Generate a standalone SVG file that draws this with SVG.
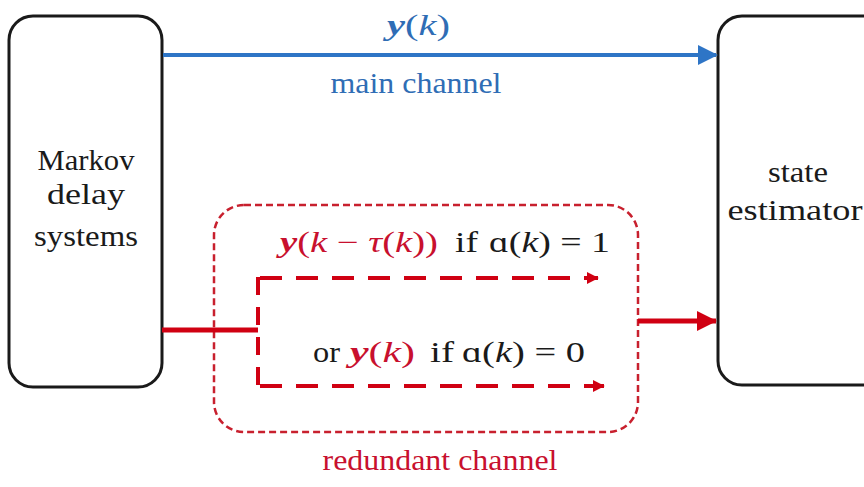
<svg xmlns="http://www.w3.org/2000/svg" width="864" height="487" viewBox="0 0 864 487">
<style>
.box{fill:#fff;stroke:#1a1a1a;stroke-width:3}
text{font-family:Liberation Serif,Tinos,Times New Roman,serif;font-size:29px;fill:#1a1a1a}
.blue{fill:#2f6db5}
.red{fill:#c8102e}
.bi{font-weight:bold;font-style:italic}
.it{font-style:italic}
</style>
<defs>
<marker id="ab" markerWidth="5" markerHeight="5" refX="4.5" refY="2.5" orient="auto" markerUnits="strokeWidth"><path d="M0,0 L5,2.5 L0,5 Z" fill="#2e75c6"/></marker>
<marker id="ar" markerWidth="4" markerHeight="4" refX="3.8" refY="2" orient="auto" markerUnits="strokeWidth"><path d="M0,0 L4,2 L0,4 Z" fill="#d00012"/></marker>
<marker id="ad" markerWidth="3" markerHeight="3" refX="2.8" refY="1.5" orient="auto" markerUnits="strokeWidth"><path d="M0,0 L3,1.5 L0,3 Z" fill="#d00012"/></marker>
</defs>
<rect width="864" height="487" fill="#fff"/>
<g id="markov">
<rect class="box" x="9" y="16" width="153" height="371" rx="24"/>
<text text-anchor="middle" x="86" y="170" textLength="97" lengthAdjust="spacingAndGlyphs">Markov</text>
<text text-anchor="middle" x="86" y="204" textLength="78" lengthAdjust="spacingAndGlyphs">delay</text>
<text text-anchor="middle" x="86" y="246" textLength="104" lengthAdjust="spacingAndGlyphs">systems</text>
</g>
<g id="estimator">
<rect class="box" x="718" y="16" width="170" height="369" rx="24"/>
<text text-anchor="middle" x="798" y="182" textLength="60" lengthAdjust="spacingAndGlyphs">state</text>
<text text-anchor="middle" x="795" y="220" textLength="135" lengthAdjust="spacingAndGlyphs">estimator</text>
</g>
<g id="redundant">
<rect x="214" y="205" width="424" height="227" rx="30" fill="none" stroke="#c8202e" stroke-width="2.5" stroke-dasharray="7,4"/>
<text class="red" x="280" y="252" textLength="158" lengthAdjust="spacingAndGlyphs"><tspan class="bi">y</tspan>(<tspan class="it">k</tspan> − <tspan class="it">τ</tspan>(<tspan class="it">k</tspan>))</text>
<text x="455" y="252" textLength="23" lengthAdjust="spacingAndGlyphs">if</text>
<text x="489" y="252" textLength="121" lengthAdjust="spacingAndGlyphs">ɑ(<tspan class="it">k</tspan>) = 1</text>
<text x="313" y="362" textLength="27" lengthAdjust="spacingAndGlyphs">or</text>
<text class="red" x="350" y="362" textLength="65" lengthAdjust="spacingAndGlyphs"><tspan class="bi">y</tspan>(<tspan class="it">k</tspan>)</text>
<text x="430" y="362" textLength="24" lengthAdjust="spacingAndGlyphs">if</text>
<text x="462" y="362" textLength="123" lengthAdjust="spacingAndGlyphs">ɑ(<tspan class="it">k</tspan>) = 0</text>
<text class="red" text-anchor="middle" x="440" y="470" textLength="235" lengthAdjust="spacingAndGlyphs">redundant channel</text>
</g>
<g id="main-label">
<text class="blue" x="387" y="35" textLength="63" lengthAdjust="spacingAndGlyphs"><tspan class="bi">y</tspan>(<tspan class="it">k</tspan>)</text>
<text class="blue" text-anchor="middle" x="416" y="93" textLength="171" lengthAdjust="spacingAndGlyphs">main channel</text>
</g>
<g id="connectors" fill="none">
<line x1="163" y1="55" x2="716" y2="55" stroke="#2e75c6" stroke-width="4" marker-end="url(#ab)"/>
<line x1="162" y1="330" x2="258" y2="330" stroke="#d00012" stroke-width="5"/>
<line x1="258" y1="277" x2="258" y2="389" stroke="#d00012" stroke-width="4" stroke-dasharray="18,12"/>
<line x1="260" y1="278" x2="598" y2="278" stroke="#d00012" stroke-width="4" stroke-dasharray="22,14" marker-end="url(#ad)"/>
<line x1="260" y1="386" x2="604" y2="386" stroke="#d00012" stroke-width="4" stroke-dasharray="22,14" marker-end="url(#ad)"/>
<line x1="638" y1="321" x2="716" y2="321" stroke="#d00012" stroke-width="5" marker-end="url(#ar)"/>
</g>
</svg>
